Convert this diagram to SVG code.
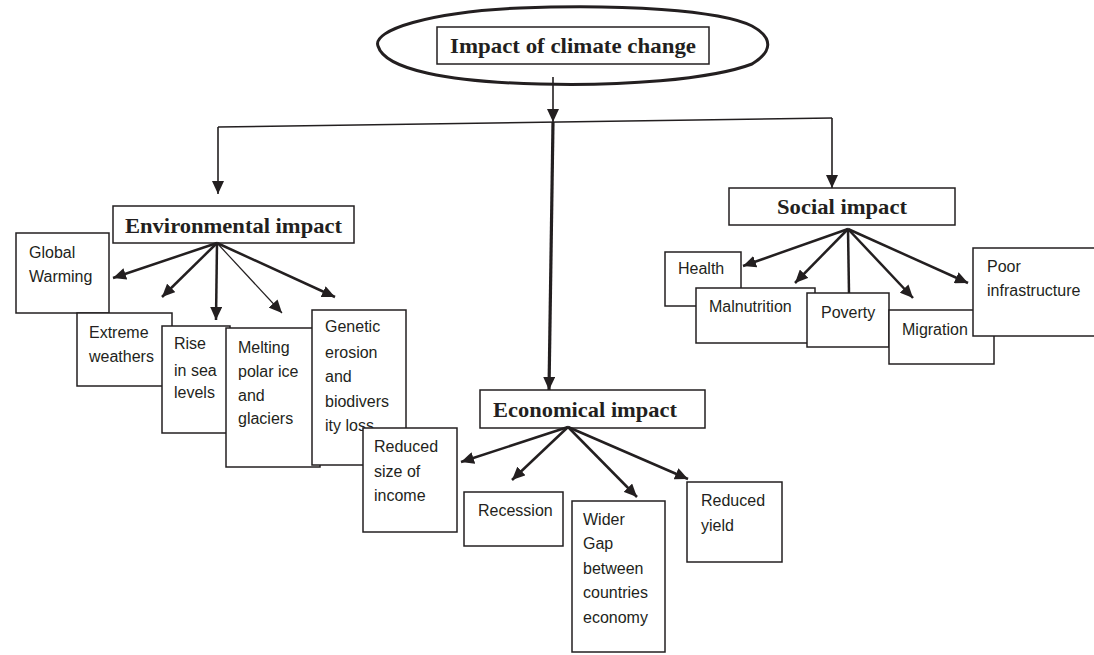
<svg xmlns="http://www.w3.org/2000/svg" width="1094" height="655" viewBox="0 0 1094 655">
<defs>
<style>
.box{fill:#fff;stroke:#231f20;stroke-width:1.5}
.t{font-family:"Liberation Sans",Arial,sans-serif;font-size:16px;fill:#231f20}
.h{font-family:"Liberation Serif","Times New Roman",serif;font-size:22px;font-weight:bold;fill:#231f20}
.c{fill:none;stroke:#231f20;stroke-width:2.5}
.thin{stroke-width:1.2}
.mid{stroke-width:1.6}
.thick{stroke-width:3.2}
</style>
<marker id="ah" markerUnits="userSpaceOnUse" markerWidth="14" markerHeight="12" refX="13" refY="6" orient="auto">
<path d="M0,0 L13,6 L0,12 Z" fill="#231f20"/>
</marker>
</defs>
<rect width="1094" height="655" fill="#fff"/>

<g id="root">
<path d="M378,46 C372,30 430,12 520,8 C620,4 720,10 752,26 C774,38 772,52 752,64 C710,80 620,86 540,84 C450,82 385,70 378,46 Z" fill="#fff" stroke="#231f20" stroke-width="3"/>
<rect class="box" x="437" y="27" width="272" height="37"/>
<text class="h" x="450" y="53" textLength="246" lengthAdjust="spacingAndGlyphs">Impact of climate change</text>
</g>

<g id="env">
<rect class="box" x="113" y="206" width="241" height="37"/>
<text class="h" x="125" y="233" textLength="217" lengthAdjust="spacingAndGlyphs">Environmental impact</text>
</g>
<g id="global-warming">
<rect class="box" x="16" y="233" width="93" height="80"/>
<text class="t" x="29" y="258">Global</text>
<text class="t" x="29" y="282">Warming</text>
</g>
<g id="extreme-weathers">
<rect class="box" x="77" y="313" width="95" height="73"/>
<text class="t" x="89" y="338">Extreme</text>
<text class="t" x="89" y="362">weathers</text>
</g>
<g id="rise-sea">
<rect class="box" x="162" y="326" width="68" height="107"/>
<text class="t" x="174" y="349">Rise</text>
<text class="t" x="174" y="376">in sea</text>
<text class="t" x="174" y="398">levels</text>
</g>
<g id="melting">
<rect class="box" x="226" y="328" width="94" height="139"/>
<text class="t" x="238" y="353">Melting</text>
<text class="t" x="238" y="377">polar ice</text>
<text class="t" x="238" y="401">and</text>
<text class="t" x="238" y="424">glaciers</text>
</g>
<g id="genetic">
<rect class="box" x="312" y="310" width="94" height="155"/>
<text class="t" x="325" y="332">Genetic</text>
<text class="t" x="325" y="358">erosion</text>
<text class="t" x="325" y="382">and</text>
<text class="t" x="325" y="407">biodivers</text>
<text class="t" x="325" y="431">ity loss</text>
</g>

<g id="social">
<rect class="box" x="729" y="188" width="226" height="37"/>
<text class="h" x="777" y="214" textLength="130" lengthAdjust="spacingAndGlyphs">Social impact</text>
</g>
<g id="health">
<rect class="box" x="665" y="252" width="76" height="54"/>
<text class="t" x="678" y="274">Health</text>
</g>
<g id="malnutrition">
<rect class="box" x="696" y="288" width="119" height="55"/>
<text class="t" x="709" y="312">Malnutrition</text>
</g>
<g id="poverty">
<rect class="box" x="807" y="293" width="82" height="54"/>
<text class="t" x="821" y="318">Poverty</text>
</g>
<g id="migration">
<rect class="box" x="889" y="310" width="105" height="54"/>
<text class="t" x="902" y="335">Migration</text>
</g>
<g id="poor-infrastructure">
<rect class="box" x="973" y="248" width="130" height="88"/>
<text class="t" x="987" y="272">Poor</text>
<text class="t" x="987" y="296">infrastructure</text>
</g>

<g id="econ">
<rect class="box" x="480" y="390" width="225" height="38"/>
<text class="h" x="493" y="417" textLength="184" lengthAdjust="spacingAndGlyphs">Economical impact</text>
</g>
<g id="reduced-income">
<rect class="box" x="363" y="428" width="94" height="104"/>
<text class="t" x="374" y="452">Reduced</text>
<text class="t" x="374" y="477">size of</text>
<text class="t" x="374" y="501">income</text>
</g>
<g id="recession">
<rect class="box" x="464" y="492" width="99" height="54"/>
<text class="t" x="478" y="516">Recession</text>
</g>
<g id="wider-gap">
<rect class="box" x="572" y="501" width="93" height="151"/>
<text class="t" x="583" y="525">Wider</text>
<text class="t" x="583" y="549">Gap</text>
<text class="t" x="583" y="574">between</text>
<text class="t" x="583" y="598">countries</text>
<text class="t" x="583" y="623">economy</text>
</g>
<g id="reduced-yield">
<rect class="box" x="687" y="482" width="95" height="80"/>
<text class="t" x="701" y="506">Reduced</text>
<text class="t" x="701" y="531">yield</text>
</g>

<g id="connectors">
<line class="c mid" x1="553" y1="77" x2="553" y2="122" marker-end="url(#ah)"/>
<line class="c mid" x1="218" y1="127" x2="832" y2="118"/>
<line class="c mid" x1="218" y1="127" x2="218" y2="194" marker-end="url(#ah)"/>
<line class="c mid" x1="832" y1="118" x2="832" y2="188" marker-end="url(#ah)"/>
<line class="c thick" x1="553" y1="122" x2="549" y2="390" marker-end="url(#ah)"/>
<line class="c" x1="217" y1="243" x2="113" y2="278" marker-end="url(#ah)"/>
<line class="c" x1="217" y1="243" x2="162" y2="297" marker-end="url(#ah)"/>
<line class="c" x1="217" y1="243" x2="216" y2="320" marker-end="url(#ah)"/>
<line class="c thin" x1="217" y1="243" x2="282" y2="313" marker-end="url(#ah)"/>
<line class="c" x1="217" y1="243" x2="335" y2="297" marker-end="url(#ah)"/>
<line class="c" x1="848" y1="229" x2="743" y2="266" marker-end="url(#ah)"/>
<line class="c" x1="848" y1="229" x2="795" y2="283" marker-end="url(#ah)"/>
<line class="c" x1="848" y1="229" x2="849" y2="293"/>
<line class="c" x1="848" y1="229" x2="913" y2="298" marker-end="url(#ah)"/>
<line class="c" x1="848" y1="229" x2="968" y2="283" marker-end="url(#ah)"/>
<line class="c" x1="568" y1="427" x2="461" y2="462" marker-end="url(#ah)"/>
<line class="c" x1="568" y1="427" x2="512" y2="480" marker-end="url(#ah)"/>
<line class="c" x1="568" y1="427" x2="637" y2="497" marker-end="url(#ah)"/>
<line class="c" x1="568" y1="427" x2="688" y2="479" marker-end="url(#ah)"/>
</g>
</svg>
